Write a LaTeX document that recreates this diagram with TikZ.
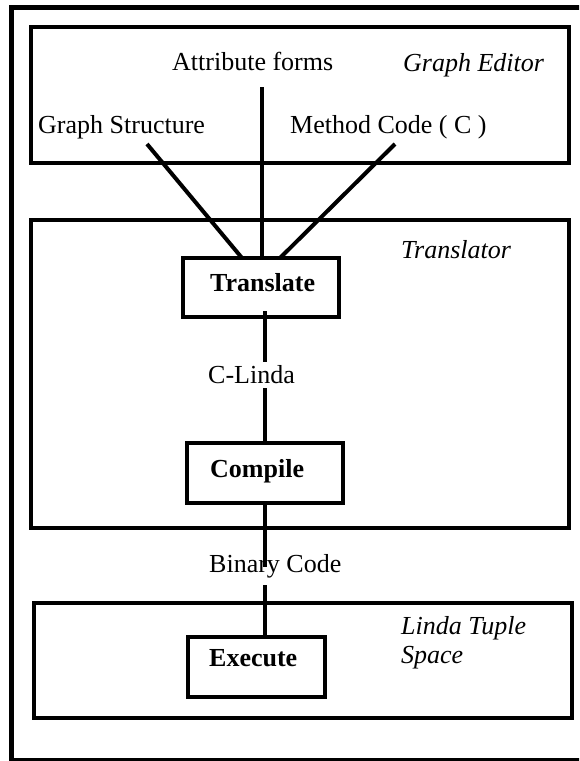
\documentclass[tikz,border=0pt]{standalone}
\usepackage{fontspec}
\setmainfont{Liberation Serif}
\begin{document}
\begin{tikzpicture}[x=1pt,y=-1pt,
  panel/.style={draw, line width=4pt, inner sep=0pt},
  stagebox/.style={draw, line width=4pt, inner sep=0pt},
  wire/.style={line width=4pt},
  lbl/.style={inner sep=0pt, anchor=base west, font=\fontsize{26}{30}\selectfont},
  title/.style={lbl, font=\fontsize{26}{30}\selectfont\itshape},
  stagelbl/.style={lbl, font=\fontsize{26}{30}\selectfont\bfseries}]
\clip (0,0) rectangle (579,761);

% outer frame
\draw[line width=5pt] (11.5,7.5) rectangle (590,760.5);

% the three panels
\node[panel, minimum width=538pt, minimum height=136pt] (editor) at (300,95) {};
\node[panel, minimum width=538pt, minimum height=308pt] (translator) at (300,374) {};
\node[panel, minimum width=538pt, minimum height=115pt] (tuplespace) at (303,660.5) {};

% panel titles
\node[title] (editorT) at (403,71) {Graph Editor};
\node[title] (translatorT) at (401,258) {Translator};
\node[title, anchor=north west, align=left] (tupleT) at (401,616)
  {Linda Tuple\\[-0.5pt]Space};

% processing stages
\node[stagebox, minimum width=156pt, minimum height=59pt] (translate) at (261,287.5) {};
\node[stagebox, minimum width=156pt, minimum height=60pt] (compile) at (265,473) {};
\node[stagebox, minimum width=137pt, minimum height=60pt] (execute) at (256.5,667) {};
\node[stagelbl] (translateL) at (210,291) {Translate};
\node[stagelbl] (compileL) at (210,477) {Compile};
\node[stagelbl] (executeL) at (209,666) {Execute};

% editor outputs
\node[lbl] (attr) at (172,70.5) {Attribute forms};
\node[lbl] (gstruct) at (38,133) {Graph Structure};
\node[lbl] (mcode) at (290,133) {Method Code ( C )};

% intermediate products
\node[lbl] (clinda) at (208,383) {C-Linda};
\node[lbl] (binary) at (209,572) {Binary Code};

% wire end points
\coordinate (attrEnd) at (262,87);
\coordinate (gsEnd) at (147,144);
\coordinate (gsIn) at (242,258);
\coordinate (mcEnd) at (395,144);
\coordinate (mcIn) at (280,258);
\coordinate (tOut) at (265,311);
\coordinate (clTop) at (265,362);
\coordinate (clBot) at (265,388);
\coordinate (bcTop) at (265,567);
\coordinate (bcBot) at (265,585);

% connectors
\draw[wire] (attrEnd) -- (attrEnd |- translate.north);
\draw[wire] (gsEnd) -- (gsIn);
\draw[wire] (mcEnd) -- (mcIn);
\draw[wire] (tOut) -- (clTop);
\draw[wire] (clBot) -- (clBot |- compile.north);
\draw[wire] (compile.south -| bcTop) -- (bcTop);
\draw[wire] (bcBot) -- (bcBot |- execute.north);
\end{tikzpicture}
\end{document}
